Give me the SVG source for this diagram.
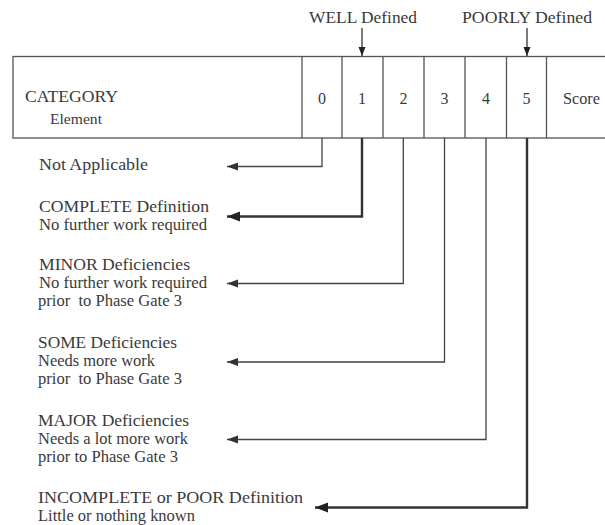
<svg xmlns="http://www.w3.org/2000/svg" width="605" height="525" viewBox="0 0 605 525">
<style>
text{font-family:"Liberation Serif","Times New Roman",serif;fill:#3a3a3a}
.b{font-size:17px}
.h{font-size:16.5px}
.d{font-size:16px}
.s{font-size:15.5px}
.c{text-anchor:middle}
.box{fill:none;stroke:#555;stroke-width:1.3}
.thin{fill:none;stroke:#444;stroke-width:1.3;marker-end:url(#ah)}
.thick{fill:none;stroke:#333;stroke-width:2.4;marker-end:url(#ahb)}
.top{fill:none;stroke:#333;stroke-width:1.3;marker-end:url(#ahs)}
</style>
<defs>
<marker id="ah" markerUnits="userSpaceOnUse" markerWidth="12" markerHeight="10" refX="11" refY="4" orient="auto"><path d="M0,0 L11,4 L0,8 Z" fill="#333"/></marker>
<marker id="ahb" markerUnits="userSpaceOnUse" markerWidth="14" markerHeight="12" refX="13" refY="5" orient="auto"><path d="M0,0 L13,5 L0,10 Z" fill="#222"/></marker>
<marker id="ahs" markerUnits="userSpaceOnUse" markerWidth="10" markerHeight="8" refX="9" refY="3.5" orient="auto"><path d="M0,0 L9,3.5 L0,7 Z" fill="#222"/></marker>
</defs>
<rect width="605" height="525" fill="#fff"/>

<g id="table">
<rect class="box" x="13" y="56.5" width="600" height="81.5"/>
<path class="box" d="M302,56.5V138M342,56.5V138M383,56.5V138M424,56.5V138M465,56.5V138M506.5,56.5V138M546.5,56.5V138"/>
<text class="b" x="25" y="102" textLength="93" lengthAdjust="spacingAndGlyphs">CATEGORY</text>
<text class="s" x="50" y="124" textLength="52" lengthAdjust="spacingAndGlyphs">Element</text>
<text class="d c" x="322" y="104">0</text>
<text class="d c" x="362" y="104">1</text>
<text class="d c" x="403.5" y="104">2</text>
<text class="d c" x="444.5" y="104">3</text>
<text class="d c" x="486" y="104">4</text>
<text class="d c" x="526.5" y="104">5</text>
<text class="d" x="563" y="104" textLength="37" lengthAdjust="spacingAndGlyphs">Score</text>
</g>

<g id="well">
<text class="h" x="309" y="23" textLength="108" lengthAdjust="spacingAndGlyphs">WELL Defined</text>
</g>
<g id="poorly">
<text class="h" x="462" y="23" textLength="130" lengthAdjust="spacingAndGlyphs">POORLY Defined</text>
</g>

<g id="na">
<text class="b" x="39" y="170" textLength="109" lengthAdjust="spacingAndGlyphs">Not Applicable</text>
</g>
<g id="complete">
<text class="b" x="39" y="212" textLength="170" lengthAdjust="spacingAndGlyphs">COMPLETE Definition</text>
<text class="b" x="39" y="230" textLength="168" lengthAdjust="spacingAndGlyphs">No further work required</text>
</g>
<g id="minor">
<text class="b" x="39" y="270" textLength="151" lengthAdjust="spacingAndGlyphs">MINOR Deficiencies</text>
<text class="b" x="39" y="288" textLength="168" lengthAdjust="spacingAndGlyphs">No further work required</text>
<text class="b" x="38" y="305.5" textLength="144" lengthAdjust="spacingAndGlyphs">prior&#160; to Phase Gate 3</text>
</g>
<g id="some">
<text class="b" x="38" y="348" textLength="139" lengthAdjust="spacingAndGlyphs">SOME Deficiencies</text>
<text class="b" x="38" y="366" textLength="117" lengthAdjust="spacingAndGlyphs">Needs more work</text>
<text class="b" x="38" y="384" textLength="144" lengthAdjust="spacingAndGlyphs">prior&#160; to Phase Gate 3</text>
</g>
<g id="major">
<text class="b" x="38" y="426" textLength="151" lengthAdjust="spacingAndGlyphs">MAJOR Deficiencies</text>
<text class="b" x="38" y="443.5" textLength="150" lengthAdjust="spacingAndGlyphs">Needs a lot more work</text>
<text class="b" x="38" y="461.5" textLength="140" lengthAdjust="spacingAndGlyphs">prior to Phase Gate 3</text>
</g>
<g id="incomplete">
<text class="b" x="38" y="503" textLength="265" lengthAdjust="spacingAndGlyphs">INCOMPLETE or POOR Definition</text>
<text class="b" x="38" y="520.5" textLength="157" lengthAdjust="spacingAndGlyphs">Little or nothing known</text>
</g>

<g id="connectors">
<path class="top" d="M362,28V56"/>
<path class="top" d="M527,28V56"/>
<path class="thin" d="M322,138V166.5H227"/>
<path class="thick" d="M362,138V216.5H227"/>
<path class="thin" d="M403.3,138V283.5H227"/>
<path class="thin" d="M444.5,138V362H227"/>
<path class="thin" d="M486,138V439.5H227"/>
<path class="thick" d="M527,138V507.5H315"/>
</g>
</svg>
